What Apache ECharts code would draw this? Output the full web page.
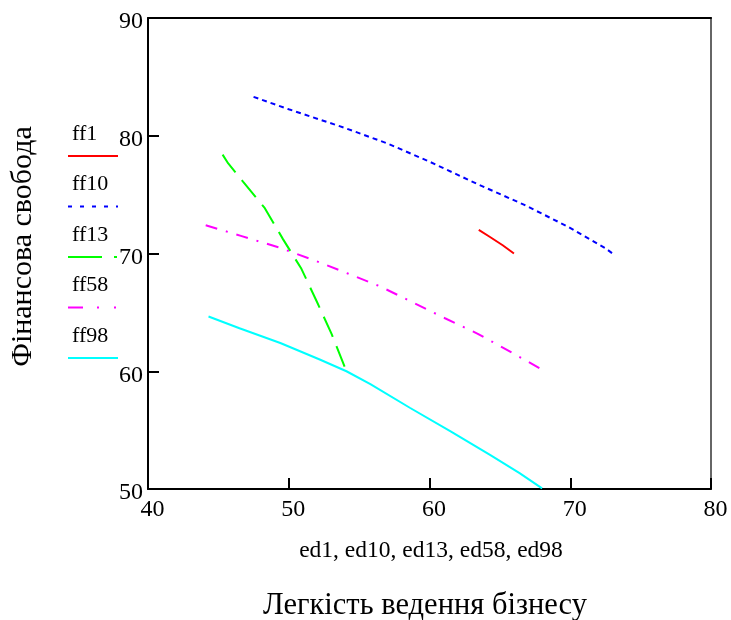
<!DOCTYPE html>
<html>
<head>
<meta charset="utf-8">
<script src="https://cdn.jsdelivr.net/npm/echarts@6/dist/echarts.min.js"></script>
<style>
html,body{margin:0;padding:0;background:#fff;}
#chart{width:731px;height:620px;}
</style>
</head>
<body>
<div id="chart"></div>
<script>
// ---- data ----
var seriesNames = ['ff1', 'ff10', 'ff13', 'ff58', 'ff98'];
var ff1 = [[63.5,72.0],[64.3,71.4],[65.2,70.7],[66.0,70.0]];
var ff10 = [[47.5,83.3],[50.0,82.25],[53.9,80.7],[57.0,79.35],[60.0,77.8],[63.4,75.9],[66.7,74.15],[69.8,72.3],[72.5,70.45],[73.0,70.0]];
var ff13 = [[45.3,78.4],[45.7,77.65],[46.75,76.1],[48.3,73.85],[49.6,71.2],[50.9,68.7],[52.0,65.9],[53.05,63.15],[54.1,60.0]];
var ff58 = [[44.1,72.4],[46.6,71.5],[49.2,70.55],[51.75,69.45],[54.2,68.3],[56.5,67.2],[58.9,65.8],[61.1,64.5],[63.4,63.2],[65.6,61.75],[68.2,60.0]];
var ff98 = [[44.3,64.65],[46.5,63.65],[49.4,62.4],[52.2,61.0],[54.1,60.0],[55.8,58.9],[58.6,56.9],[61.5,54.9],[64.3,52.9],[66.4,51.35],[68.0,50.05]];
var xTicks = [40, 50, 60, 70, 80];
var yTicks = [50, 60, 70, 80, 90];
var xTitle1 = 'ed1, ed10, ed13, ed58, ed98';
var xTitle2 = 'Легкість ведення бізнесу';
var yTitle = 'Фінансова свобода';

// ---- styles ----
var seriesData = [ff1, ff10, ff13, ff58, ff98];
var colors = ['#ff0000', '#0000ff', '#00ff00', '#ff00ff', '#00ffff'];
var dashes = ['solid', [5,4], [22,10], [12,9,2,9], 'solid'];
var legendDashes = [null, [4,8], [34,12,3,10], [15,14,2,15,2,10], null];
var FONT = 'Liberation Serif';

var chart = echarts.init(document.getElementById('chart'), null, {renderer: 'canvas'});

var series = seriesNames.map(function (n, i) {
  return {
    name: n, type: 'line', data: seriesData[i], smooth: false,
    showSymbol: false, symbol: 'none', z: 3,
    lineStyle: {color: colors[i], width: 2, type: dashes[i]}
  };
});

var graphics = [];
seriesNames.forEach(function (n, i) {
  graphics.push({
    type: 'text', left: 72, top: 123 + i * 50.5,
    style: {text: n, fontSize: 22, fontFamily: FONT, fill: '#000'}
  });
  graphics.push({
    type: 'line', shape: {x1: 68, y1: 156 + i * 50.5, x2: 118, y2: 156 + i * 50.5},
    style: {stroke: colors[i], lineWidth: 2, lineDash: legendDashes[i]}
  });
});
graphics.push({
  type: 'text', x: 431, y: 551,
  style: {text: xTitle1, fontSize: 23.5, fontFamily: FONT, fill: '#000', align: 'center', verticalAlign: 'middle'}
});
graphics.push({
  type: 'text', x: 425, y: 606,
  style: {text: xTitle2, fontSize: 30.5, fontFamily: FONT, fill: '#000', align: 'center', verticalAlign: 'middle'}
});
graphics.push({
  type: 'text', x: 23, y: 246.5, rotation: Math.PI / 2,
  style: {text: yTitle, fontSize: 30, fontFamily: FONT, fill: '#000', align: 'center', verticalAlign: 'middle'}
});

var labelStyle = {fontSize: 24, fontFamily: FONT, color: '#000'};

chart.setOption({
  backgroundColor: '#fff',
  animation: false,
  grid: {left: 148, right: 20, top: 18, bottom: 131, containLabel: false},
  xAxis: [{
    type: 'value', min: xTicks[0], max: xTicks[xTicks.length - 1], interval: 10,
    position: 'bottom',
    axisLine: {show: true, onZero: false, lineStyle: {color: '#000', width: 2}},
    axisTick: {show: true, inside: true, length: 11, lineStyle: {color: '#000', width: 2}},
    axisLabel: Object.assign({margin: 9, padding: [0, 0, 0, 9]}, labelStyle),
    splitLine: {show: false}
  }, {
    type: 'value', min: xTicks[0], max: xTicks[xTicks.length - 1], position: 'top',
    axisLine: {show: true, onZero: false, lineStyle: {color: '#000', width: 2}},
    axisTick: {show: false}, axisLabel: {show: false}, splitLine: {show: false}
  }],
  yAxis: [{
    type: 'value', min: yTicks[0], max: yTicks[yTicks.length - 1], interval: 10,
    position: 'left',
    axisLine: {show: true, onZero: false, lineStyle: {color: '#000', width: 2}},
    axisTick: {show: true, inside: true, length: 11, lineStyle: {color: '#000', width: 2}},
    axisLabel: {
      margin: 5,
      formatter: function (v) { return '{a|' + v + '}'; },
      rich: {a: {fontSize: 24, fontFamily: FONT, color: '#000', padding: [8, 0, 0, 0]}}
    },
    splitLine: {show: false}
  }, {
    type: 'value', min: yTicks[0], max: yTicks[yTicks.length - 1], position: 'right',
    axisLine: {show: true, onZero: false, lineStyle: {color: '#666', width: 2}},
    axisTick: {show: false}, axisLabel: {show: false}, splitLine: {show: false}
  }],
  graphic: graphics,
  series: series
});
</script>
</body>
</html>
